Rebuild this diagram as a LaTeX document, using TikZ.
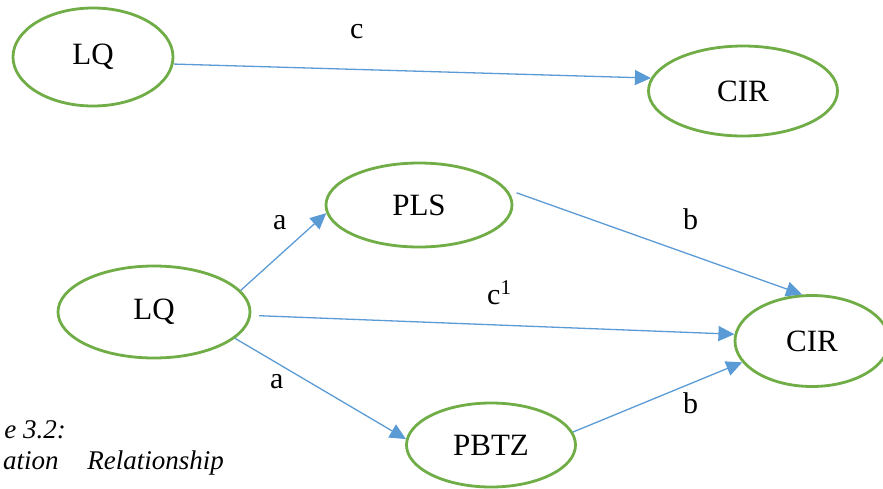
\documentclass[tikz,border=0pt]{standalone}
\usepackage{fontspec}
\setmainfont{Liberation Serif}
\usetikzlibrary{arrows.meta,shapes.geometric}
\definecolor{ovalgreen}{RGB}{112,173,71}
\definecolor{linkblue}{RGB}{91,155,213}

\begin{document}
\begin{tikzpicture}[x=1pt,y=-1pt]
	\tikzstyle{var} = [ellipse, draw=ovalgreen, line width=2.8pt, inner sep=0pt, font=\fontsize{31}{36}\selectfont]
	\tikzstyle{line} = [draw=linkblue, line width=1.3pt, -{Triangle[length=16pt,width=15pt]}]
	\tikzstyle{coef} = [inner sep=0pt, anchor=base west, font=\fontsize{30}{36}\selectfont]
	\tikzstyle{caption} = [inner sep=0pt, anchor=base east, font=\fontsize{27}{32}\selectfont\itshape]

	\useasboundingbox (0,0) rectangle (883,488);

	% direct path
	\node [var, minimum width=160pt, minimum height=98pt] (LQtop) at (93,57) {LQ};
	\node [var, minimum width=189pt, minimum height=90pt] (CIRtop) at (743,91) {CIR};
	\path [line] (LQtop.-5) -- (CIRtop.172);
	\node [coef] (ctot) at (350,38) {c};

	% mediated paths
	\node [var, minimum width=192pt, minimum height=92pt] (LQ) at (154,312) {LQ};
	\node [var, minimum width=186pt, minimum height=84pt] (PLS) at (419,205) {PLS};
	\node [var, minimum width=169pt, minimum height=84pt] (PBTZ) at (491,445) {PBTZ};
	\node [var, minimum width=154pt, minimum height=91pt] (CIR) at (812,341) {CIR};

	\path [line] (LQ.14) -- (PLS.185);
	\node [coef] (a1) at (273,229) {a};
	\path [line, shorten <=10pt] (PLS.10) -- (CIR.102);
	\node [coef] (b1) at (683,229) {b};
	\path [line, shorten <=8pt] (LQ.-2) -- (CIR.175);
	\node [coef] (cdir) at (487,304) {c\textsuperscript{1}};
	\path [line] (LQ.-18) -- (PBTZ.176);
	\node [coef] (a2) at (270,388) {a};
	\path [line] (PBTZ.9) -- (CIR.197);
	\node [coef] (b2) at (683,413) {b};

	% caption, cut at the left
	\node [caption] (figno) at (66,438) {e 3.2:};
	\node [caption] (figtitle) at (224,469) {ation\hspace{22pt} Relationship};
\end{tikzpicture}
\end{document}
